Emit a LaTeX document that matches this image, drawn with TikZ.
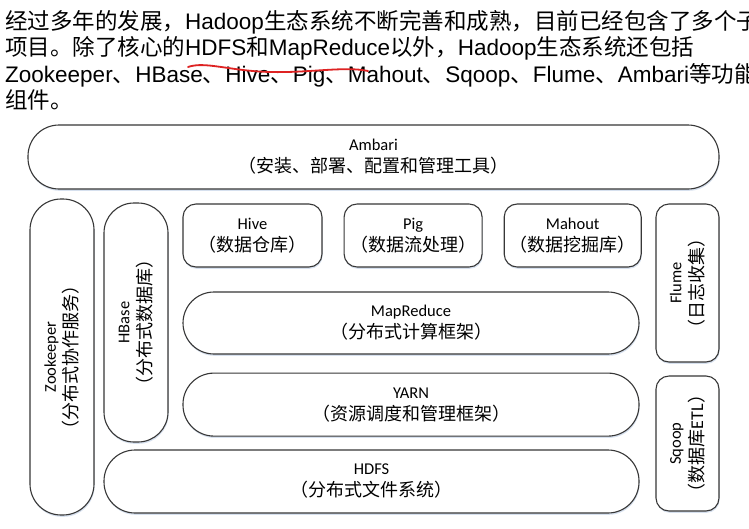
\documentclass[tikz,border=0pt]{standalone}
\usepackage{fontspec}
\setmainfont{Carlito}
\newfontfamily\cjk{Noto Sans CJK SC}
\newfontfamily\arial{Liberation Sans}
\usetikzlibrary{positioning,shadows}

\definecolor{edgegray}{RGB}{55,55,55}
\definecolor{shadeblue}{RGB}{214,224,238}
\definecolor{penred}{RGB}{222,35,35}
\newcommand{\comp}[2]{#1\\{\cjk\fontsize{18}{22}\selectfont （#2）}}

\begin{document}
\begin{tikzpicture}[
  x=1pt, y=-1pt,
  part/.style={draw=edgegray, line width=1.1pt, fill=white, align=center, inner sep=0pt,
    font=\fontsize{16.5}{22}\selectfont,
    drop shadow={shadow xshift=0.6pt, shadow yshift=-1.8pt, fill=shadeblue, opacity=1}},
  pill/.style={part, rounded corners=31pt},
  card/.style={part, rounded corners=13pt},
  para/.style={anchor=base west, inner sep=0pt, font=\arial\fontsize{22.5}{26}\selectfont}
]
  \useasboundingbox (0,0) rectangle (749,528);
  \fill[white] (0,0) rectangle (749,528);

  % intro text
  \node[para] (line1) at (5,29.5) {{\cjk 经过多年的发展，}Hadoop{\cjk 生态系统不断完善和成熟，目前已经包含了多个子}};
  \node[para] (line2) at (5,55.8) {{\cjk 项目。除了核心的}HDFS{\cjk 和}MapReduce{\cjk 以外，}Hadoop{\cjk 生态系统还包括}};
  \node[para] (line3) at (5,82.1) {Zookeeper{\cjk 、}HBase{\cjk 、}Hive{\cjk 、}Pig{\cjk 、}Mahout{\cjk 、}Sqoop{\cjk 、}Flume{\cjk 、}Ambari{\cjk 等功能}};
  \node[para] (line4) at (5,108.4) {{\cjk 组件。}};
  \draw[penred, line width=1.8pt, line cap=round] (188,67) .. controls (205,61) and (230,71) .. (270,72) .. controls (310,73) and (345,66) .. (368,71);

  % ecosystem
  \node[pill, minimum width=691pt, minimum height=64pt] (ambari) at (373.5,157) {\comp{Ambari}{安装、部署、配置和管理工具}};
  \node[pill, rotate=90, minimum width=316pt, minimum height=64pt] (zookeeper) at (62,357) {\comp{Zookeeper}{分布式协作服务}};
  \node[pill, rotate=90, minimum width=239pt, minimum height=64pt, rounded corners=30pt] (hbase) at (136,322.5) {\comp{HBase}{分布式数据库}};
  \node[card, minimum width=139pt, minimum height=63pt] (hive) at (252.5,235.5) {\comp{Hive}{数据仓库}};
  \node[card, minimum width=138pt, minimum height=63pt, right=21pt of hive] (pig) {\comp{Pig}{数据流处理}};
  \node[card, minimum width=137pt, minimum height=63pt, right=21pt of pig] (mahout) {\comp{Mahout}{数据挖掘库}};
  \node[pill, minimum width=456pt, minimum height=62pt] (mapreduce) at (411,323) {\comp{MapReduce}{分布式计算框架}};
  \node[pill, minimum width=456pt, minimum height=63pt, below=18pt of mapreduce] (yarn) {\comp{YARN}{资源调度和管理框架}};
  \node[pill, minimum width=535pt, minimum height=63pt] (hdfs) at (371.5,481.5) {\comp{HDFS}{分布式文件系统}};
  \node[card, rotate=90, minimum width=158pt, minimum height=63pt] (flume) at (687.5,283) {\comp{Flume}{日志收集}};
  \node[card, rotate=90, minimum width=135pt, minimum height=63pt] (sqoop) at (687.5,443.5) {\comp{Sqoop}{数据库{\rmfamily ETL}}};
\end{tikzpicture}
\end{document}
